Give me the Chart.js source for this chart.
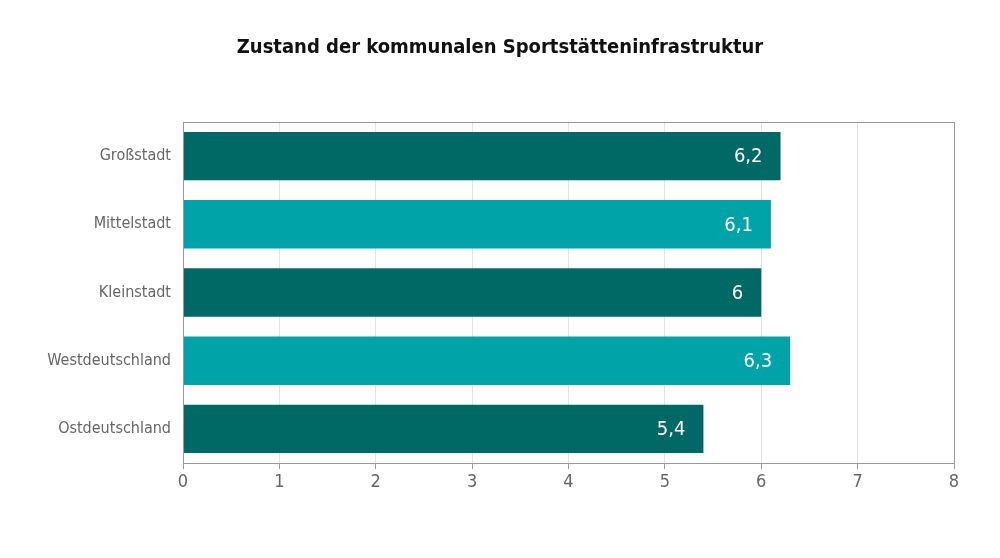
<!DOCTYPE html>
<html>
<head>
<meta charset="utf-8">
<script src="https://cdn.jsdelivr.net/npm/chart.js@4"></script>
<style>
  html, body { margin: 0; padding: 0; background: #fff; }
  #wrap { width: 1000px; height: 558px; }
</style>
</head>
<body>
<div id="wrap"><canvas id="chart"></canvas></div>
<script>
// Data
const categories = ["Großstadt", "Mittelstadt", "Kleinstadt", "Westdeutschland", "Ostdeutschland"];
const values = [6.2, 6.1, 6.0, 6.3, 5.4];
const barColors = ["#006865", "#00a3a8", "#006865", "#00a3a8", "#006865"];
const xTicks = [0, 1, 2, 3, 4, 5, 6, 7, 8];
const titleText = 'Zustand der kommunalen Sportstätteninfrastruktur';

const FONT = "'Liberation Sans Narrow', 'DejaVu Sans Condensed', 'Roboto', sans-serif";

// title centred on the page, white value labels inside the bar end, frame around plot area
const extras = {
    id: 'extras',
    afterDatasetsDraw(chart) {
        const ctx = chart.ctx;
        const meta = chart.getDatasetMeta(0);
        ctx.save();
        ctx.fillStyle = '#ffffff';
        ctx.font = '20px ' + FONT;
        ctx.textAlign = 'right';
        ctx.textBaseline = 'middle';
        meta.data.forEach((bar, i) => {
            const txt = values[i].toLocaleString('de-DE');
            ctx.fillText(txt, bar.x - 18, bar.y + 1);
        });
        ctx.restore();
    },
    afterDraw(chart) {
        const a = chart.chartArea;
        const ctx = chart.ctx;
        ctx.save();
        ctx.strokeStyle = '#999999';
        ctx.lineWidth = 1;
        ctx.strokeRect(Math.round(a.left) + 0.5, Math.round(a.top) + 0.5,
            Math.round(a.right - a.left), Math.round(a.bottom - a.top));

        ctx.fillStyle = '#111111';
        ctx.font = 'bold 20px ' + FONT;
        ctx.textAlign = 'center';
        ctx.textBaseline = 'middle';
        ctx.fillText(titleText, chart.width / 2, 48);
        ctx.restore();
    }
};

const ctx = document.getElementById('chart').getContext('2d');
new Chart(ctx, {
    type: 'bar',
    data: {
        labels: categories,
        datasets: [{
            data: values,
            backgroundColor: barColors,
            borderWidth: 0,
            barPercentage: 0.71,
            categoryPercentage: 1.0
        }]
    },
    options: {
        responsive: true,
        maintainAspectRatio: false,
        animation: false,
        indexAxis: 'y',
        layout: { padding: { left: 0, right: 46, top: 122, bottom: 0 } },
        plugins: {
            legend: { display: false },
            tooltip: { enabled: false },
            title: { display: false }
        },
        scales: {
            x: {
                min: 0,
                max: 8,
                afterBuildTicks(scale) {
                    scale.ticks = xTicks.map(v => ({ value: v }));
                },
                afterFit(scale) { scale.height = 95; },
                grid: {
                    color: '#e2e2e2',
                    tickColor: '#999999',
                    tickLength: 6,
                    drawTicks: true
                },
                border: { display: false },
                ticks: {
                    color: '#666666',
                    padding: 3,
                    font: { family: FONT, size: 18 }
                }
            },
            y: {
                afterFit(scale) { scale.width = 183; },
                grid: { display: false, drawTicks: false },
                border: { display: false },
                ticks: {
                    color: '#666666',
                    padding: 12,
                    font: { family: FONT, size: 16 }
                }
            }
        }
    },
    plugins: [extras]
});
</script>
</body>
</html>
